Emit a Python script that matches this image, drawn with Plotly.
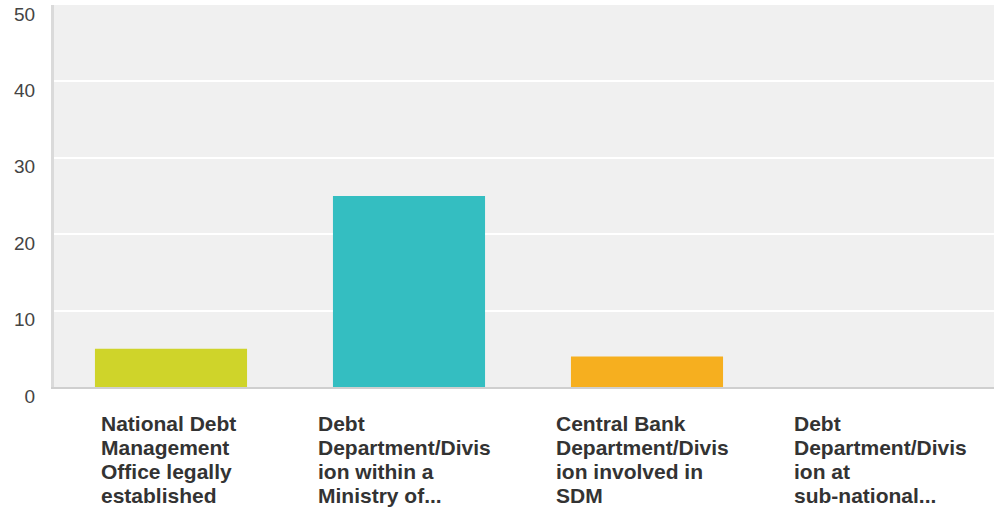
import plotly.graph_objects as go

categories = [
    "National Debt Management Office legally established",
    "Debt Department/Division within a Ministry of...",
    "Central Bank Department/Division involved in SDM",
    "Debt Department/Division at sub-national...",
]
label_lines = [
    ["National Debt", "Management", "Office legally", "established"],
    ["Debt", "Department/Divis", "ion within a", "Ministry of..."],
    ["Central Bank", "Department/Divis", "ion involved in", "SDM"],
    ["Debt", "Department/Divis", "ion at", "sub-national..."],
]
values = [5, 25, 4, 0]
colors = ["#CFD42A", "#34BEC1", "#F6AF1F", "#9B59B6"]
y_ticks = [0, 10, 20, 30, 40, 50]

# horizontal offset of each label block relative to its category centre (layout only)
label_offsets = [-0.299, -0.387, -0.387, -0.387]

fig = go.Figure()
fig.add_trace(go.Bar(
    x=list(range(len(categories))),
    y=values,
    marker=dict(color=colors, line=dict(width=0)),
    hovertext=categories,
    hoverinfo="text+y",
))

annotations = []
for i, lines in enumerate(label_lines):
    for k, line in enumerate(lines):
        annotations.append(dict(
            x=i + label_offsets[i], xref="x", xanchor="left",
            y=0, yref="y", yanchor="middle",
            yshift=-36 - 24 * k,
            text="<b>" + line + "</b>",
            showarrow=False,
            align="left",
            borderpad=0,
            font=dict(family="Liberation Sans, Arial, sans-serif", size=21, color="#333333"),
        ))

fig.update_layout(
    width=996, height=508,
    margin=dict(l=54, r=2, t=5, b=121),
    paper_bgcolor="white",
    plot_bgcolor="#F0F0F0",
    bargap=0.361,
    showlegend=False,
    annotations=annotations,
    font=dict(family="Liberation Sans, Arial, sans-serif"),
)
fig.update_xaxes(
    range=[-0.4916, 3.458],
    showticklabels=False,
    showgrid=False,
    zeroline=False,
    showline=True, linecolor="#CFCFCF", linewidth=2,
    fixedrange=True,
)
fig.update_yaxes(
    range=[0, 50],
    tickvals=y_ticks,
    ticktext=[str(v) for v in y_ticks],
    showgrid=True, gridcolor="#FFFFFF", gridwidth=2,
    zeroline=False,
    showline=True, linecolor="#DADADA", linewidth=3,
    ticks="outside", ticklen=12, tickcolor="rgba(0,0,0,0)",
    ticklabelshift=9,
    tickfont=dict(family="Liberation Sans, Arial, sans-serif", size=19, color="#444444"),
    fixedrange=True,
)

fig.write_html("out.html")
